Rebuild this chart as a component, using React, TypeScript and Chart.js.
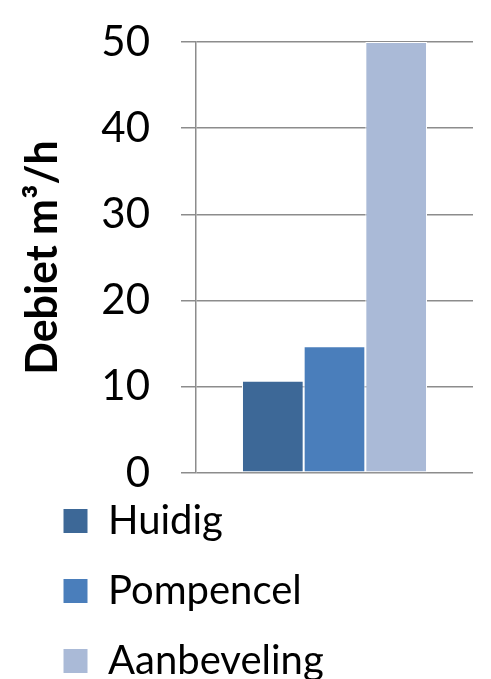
import React, { useEffect, useRef } from "react";
import { Chart, registerables } from "chart.js";

Chart.register(...registerables);

const categories: string[] = [""];
const seriesNames: string[] = ["Huidig", "Pompencel", "Aanbeveling"];
const huidigValues: number[] = [10.7];
const pompencelValues: number[] = [14.7];
const aanbevelingValues: number[] = [50];
const seriesColors: string[] = ["#3D6897", "#4A7EBB", "#AABAD7"];
const yTitle = "Debiet m³/h";
const yMin = 0;
const yMax = 50;
const yStep = 10;

const shiftLegend = {
  id: "shiftLegend",
  afterLayout(chart: any) {
    const l = chart.legend;
    if (l) {
      l.left += 25;
      l.right += 25;
      l.top -= 2;
      l.bottom -= 2;
    }
  },
};

export default function App() {
  const ref = useRef<HTMLCanvasElement | null>(null);
  useEffect(() => {
    if (!ref.current) return;
    const values = [huidigValues, pompencelValues, aanbevelingValues];
    const chart = new Chart(ref.current, {
      type: "bar",
      data: {
        labels: categories,
        datasets: seriesNames.map((name, i) => ({
          label: name,
          data: values[i],
          backgroundColor: seriesColors[i],
          borderColor: "#FFFFFF",
          borderWidth: 1,
          borderSkipped: false,
          categoryPercentage: 0.668,
          barPercentage: 1,
        })),
      },
      options: {
        animation: false,
        responsive: true,
        maintainAspectRatio: false,
        layout: { padding: { top: 34, right: 10, left: 0, bottom: 0 } },
        scales: {
          x: { display: false },
          y: {
            min: yMin,
            max: yMax,
            ticks: {
              stepSize: yStep,
              color: "#000000",
              padding: 31,
              font: { family: "Lato", size: 42 },
            },
            grid: {
              color: "#8C8C8C",
              lineWidth: 1.5,
              tickLength: 15,
              drawTicks: true,
            },
            border: { display: true, color: "#8C8C8C", width: 1.5 },
            title: {
              display: true,
              text: yTitle,
              color: "#000000",
              padding: { top: 9, bottom: 0 },
              font: { family: "Lato", size: 43, weight: "bold" },
            },
            afterFit: (scale: any) => {
              scale.width = 188;
              scale.paddingTop = 0;
              scale.paddingBottom = 0;
            },
          },
        },
        plugins: {
          legend: {
            display: true,
            position: "bottom",
            align: "start",
            labels: {
              boxWidth: 25,
              boxHeight: 25,
              padding: 30,
              color: "#000000",
              font: { family: "Lato", size: 40 },
            },
          },
          tooltip: { enabled: false },
        },
      },
      plugins: [shiftLegend],
    });
    return () => chart.destroy();
  }, []);
  return (
    <div style={{ width: 475, height: 671, overflow: "hidden" }}>
      <div style={{ position: "relative", width: 475, height: 685 }}>
        <canvas ref={ref} />
      </div>
    </div>
  );
}
